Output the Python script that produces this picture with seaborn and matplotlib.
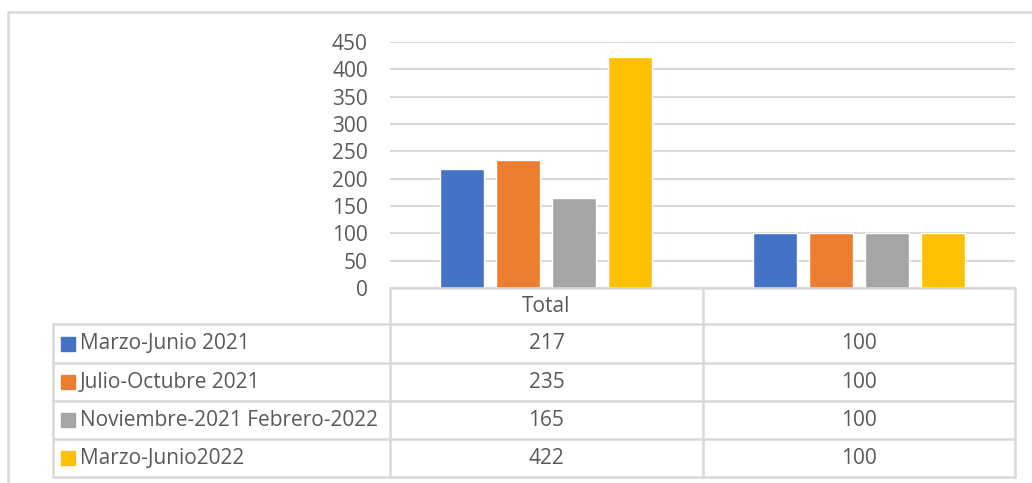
import pandas as pd
import matplotlib.pyplot as plt
import seaborn as sns
from matplotlib.lines import Line2D
from matplotlib.patches import Rectangle

# Data
periods = ["Marzo-Junio 2021", "Julio-Octubre 2021",
           "Noviembre-2021 Febrero-2022", "Marzo-Junio2022"]
categories = ["Total", " "]
total_values = [217, 235, 165, 422]
second_values = [100, 100, 100, 100]
colors = ["#4472C4", "#ED7D31", "#A5A5A5", "#FFC000"]

df = pd.DataFrame({
    "Periodo": periods * 2,
    "Categoria": [categories[0]] * 4 + [categories[1]] * 4,
    "Valor": total_values + second_values,
})

sns.set_style("white")
plt.rcParams['font.family'] = ['Open Sans', 'DejaVu Sans']

W, H = 1032, 483
fig = plt.figure(figsize=(W / 100, H / 100), dpi=100)

def fx(px):
    return px / W

def fy(py):
    return 1 - py / H

grid_c = "#d9d9d9"
text_c = "#595959"
fs = 15

ax = fig.add_axes([fx(390), fy(288), fx(1015) - fx(390), fy(42) - fy(288)])
sns.barplot(data=df, x="Categoria", y="Valor", hue="Periodo", hue_order=periods,
            order=categories, palette=colors, saturation=1, width=0.716, gap=0.21,
            legend=False, ax=ax, errorbar=None)
ax.set_ylim(0, 450)
ax.set_xlim(-0.5, 1.5)
ax.set_yticks(range(0, 451, 50))
ax.yaxis.grid(True, color=grid_c, linewidth=1.5)
ax.set_axisbelow(True)
ax.set_xticks([])
ax.set_xlabel("")
ax.set_ylabel("")
ax.tick_params(axis="y", length=0, pad=16, labelsize=fs, labelcolor=text_c)
for s in ax.spines.values():
    s.set_visible(False)

def hline(y, x0, x1):
    fig.add_artist(Line2D([fx(x0), fx(x1)], [fy(y), fy(y)], color=grid_c, lw=1.8))

def vline(x, y0, y1):
    fig.add_artist(Line2D([fx(x), fx(x)], [fy(y0), fy(y1)], color=grid_c, lw=1.8))

# outer chart border
hline(12, 8, W)
vline(8, 12, H)

# data table
row_y = [324, 363, 401, 439, 477]
hline(288, 390, 1015)
for y in row_y:
    hline(y, 53, 1015)
vline(53, 324, 477)
vline(390, 288, 477)
vline(703, 288, 477)
vline(1015, 288, 477)

fig.text(fx(546.5), fy(306), categories[0], ha="center", va="center",
         fontsize=fs, color=text_c)

for i, p in enumerate(periods):
    yc = (row_y[i] + row_y[i + 1]) / 2
    fig.add_artist(Rectangle((fx(61), fy(yc + 7)), fx(14), fy(0) - fy(14),
                             color=colors[i], transform=fig.transFigure))
    fig.text(fx(80), fy(yc), p, ha="left", va="center", fontsize=fs, color=text_c)
    fig.text(fx(546.5), fy(yc), str(total_values[i]), ha="center", va="center",
             fontsize=fs, color=text_c)
    fig.text(fx(859), fy(yc), str(second_values[i]), ha="center", va="center",
             fontsize=fs, color=text_c)

fig.savefig("out.png", dpi=100)
